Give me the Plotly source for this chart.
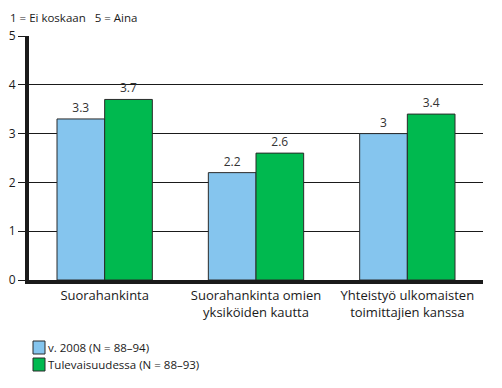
import plotly.graph_objects as go

categories = ["Suorahankinta", "Suorahankinta omien<br>yksiköiden kautta", "Yhteistyö ulkomaisten<br>toimittajien kanssa"]
series_names = ["v. 2008 (N = 88–94)", "Tulevaisuudessa (N = 88–93)"]
values_2008 = [3.3, 2.2, 3.0]
values_future = [3.7, 2.6, 3.4]
colors = ["#85c5ee", "#00b94f"]
y_ticks = [0, 1, 2, 3, 4, 5]
subtitle = "1 = Ei koskaan   5 = Aina"

FONT = "Open Sans"
W, H = 502, 388
L, R, T, B = 29, 19, 36, 108
PW = W - L - R
PH = H - T - B

def px_x(px):
    return (px - L) / PW

def px_y(py):
    return (H - B - py) / PH

fig = go.Figure()
for name, vals, col in zip(series_names, [values_2008, values_future], colors):
    fig.add_trace(go.Bar(
        x=categories, y=vals, name=name,
        marker=dict(color=col, line=dict(color="#2a2a2a", width=1)),
        text=[f"{v:g}" for v in vals], textposition="outside",
        textfont=dict(family=FONT, size=12, color="#333333"),
        cliponaxis=False,
    ))

shapes = []
annotations = [dict(text=subtitle, xref="paper", yref="paper", x=px_x(8), y=px_y(17),
                    xanchor="left", yanchor="middle", showarrow=False,
                    font=dict(family=FONT, size=11.5, color="#1a1a1a"))]
for i, (name, col) in enumerate(zip(series_names, colors)):
    cy = 347.5 + i * 17
    shapes.append(dict(type="rect", xref="paper", yref="paper",
                       x0=px_x(33), x1=px_x(45), y0=px_y(cy - 6.5), y1=px_y(cy + 6.5),
                       fillcolor=col, line=dict(color="#2a2a2a", width=1)))
    annotations.append(dict(text=name, xref="paper", yref="paper", x=px_x(46), y=px_y(cy),
                            xanchor="left", yanchor="middle", showarrow=False,
                            font=dict(family=FONT, size=11.5, color="#1a1a1a")))

fig.update_layout(
    width=W, height=H,
    margin=dict(l=L, r=R, t=T, b=B, autoexpand=False),
    paper_bgcolor="white", plot_bgcolor="white",
    barmode="group", bargap=0.37, bargroupgap=0,
    showlegend=False,
    shapes=shapes, annotations=annotations,
    xaxis=dict(type="category", range=[-0.5, 2.5], showline=True, linecolor="#1a1a1a", linewidth=4,
               ticks="", tickfont=dict(family=FONT, size=13, color="#1a1a1a"), showgrid=False,
               automargin=False),
    yaxis=dict(range=[0, 5], tickvals=y_ticks, showline=True, linecolor="#1a1a1a", linewidth=4,
               showgrid=True, gridcolor="#1a1a1a", gridwidth=1, zeroline=False,
               ticks="outside", ticklen=7, tickcolor="#1a1a1a", tickwidth=1,
               tickfont=dict(family=FONT, size=12, color="#1a1a1a"), automargin=False),
)
fig.write_html("out.html", config={"displayModeBar": False})

with open("out.html", encoding="utf-8") as f:
    html = f.read()
html = html.replace("<head>", "<head><style>html,body{margin:0;padding:0;overflow:hidden;}</style>", 1)
with open("out.html", "w", encoding="utf-8") as f:
    f.write(html)
